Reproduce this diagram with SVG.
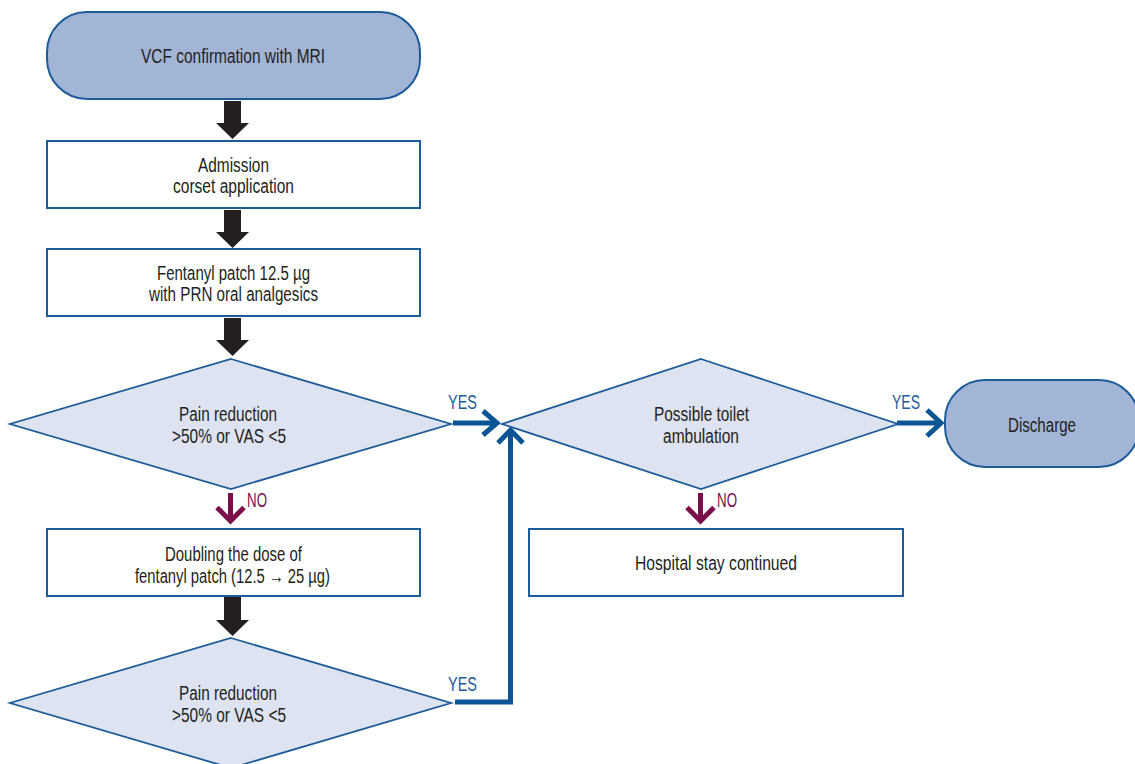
<svg xmlns="http://www.w3.org/2000/svg" width="1135" height="764" viewBox="0 0 1135 764">
<style>
text{font-family:"Liberation Sans Narrow","Liberation Sans",Arial,sans-serif;font-size:20px;fill:#231f20;text-anchor:middle}
.term{fill:#a3b5d7;stroke:#1d5c99;stroke-width:2}
.box{fill:#ffffff;stroke:#1d5c99;stroke-width:2}
.dia{fill:#dde3f1;stroke:#1d5c99;stroke-width:1.8}
.blk{fill:#231f20}
.pur{fill:none;stroke:#7b0f4b;stroke-width:5}
.blu{fill:none;stroke:#0c5595;stroke-width:5}
.lblb{fill:#1d5c99;text-anchor:start}
.lblp{fill:#7b0f4b;text-anchor:start}
</style>
<rect width="1135" height="764" fill="#ffffff"/>
<g id="connectors">
<path class="blk" d="M224,101H241V123H249L232.5,139L216,123H224Z"/>
<path class="blk" d="M224,210H241V232H249L232.5,248L216,232H224Z"/>
<path class="blk" d="M224,318H241V340H249L232.5,356L216,340H224Z"/>
<path class="blk" d="M224,597H241V620H249L232.5,636L216,620H224Z"/>
<path class="pur" d="M230.5,493V520M217,507.5L230.5,521L244,507.5"/>
<path class="pur" d="M700.5,493V520M687,507.5L700.5,521L714,507.5"/>
<path class="blu" d="M453,423H496M483,411L497,423L483,435"/>
<path class="blu" d="M455,702H510.5V431M498,443L510.5,430L523,443"/>
<path class="blu" d="M897,423H940M927,410L941,423L927,436"/>
<text class="lblb" x="448" y="409" textLength="29" lengthAdjust="spacingAndGlyphs">YES</text>
<text class="lblb" x="448" y="691" textLength="29" lengthAdjust="spacingAndGlyphs">YES</text>
<text class="lblb" x="892" y="409" textLength="28" lengthAdjust="spacingAndGlyphs">YES</text>
<text class="lblp" x="247" y="507" textLength="20" lengthAdjust="spacingAndGlyphs">NO</text>
<text class="lblp" x="717" y="507" textLength="20" lengthAdjust="spacingAndGlyphs">NO</text>
</g>
<g id="n1">
<rect class="term" x="47" y="12" width="373" height="87" rx="40"/>
<text x="233" y="63" textLength="184" lengthAdjust="spacingAndGlyphs">VCF confirmation with MRI</text>
</g>
<g id="n2">
<rect class="box" x="47" y="141" width="373" height="67"/>
<text x="233.5" y="172" textLength="71" lengthAdjust="spacingAndGlyphs">Admission</text>
<text x="233.5" y="193" textLength="121" lengthAdjust="spacingAndGlyphs">corset application</text>
</g>
<g id="n3">
<rect class="box" x="47" y="249" width="373" height="67"/>
<text x="233.5" y="280" textLength="153" lengthAdjust="spacingAndGlyphs">Fentanyl patch 12.5 µg</text>
<text x="233.5" y="301" textLength="169" lengthAdjust="spacingAndGlyphs">with PRN oral analgesics</text>
</g>
<g id="n4">
<polygon class="dia" points="231,359 451,424 231,489 10,424"/>
<text x="228" y="421" textLength="98" lengthAdjust="spacingAndGlyphs">Pain reduction</text>
<text x="229" y="443" textLength="114" lengthAdjust="spacingAndGlyphs">&gt;50% or VAS &lt;5</text>
</g>
<g id="n5">
<rect class="box" x="47" y="529" width="373" height="67"/>
<text x="233.5" y="561" textLength="137" lengthAdjust="spacingAndGlyphs">Doubling the dose of</text>
<text x="232.5" y="583" textLength="195" lengthAdjust="spacingAndGlyphs">fentanyl patch (12.5 → 25 µg)</text>
</g>
<g id="n6">
<polygon class="dia" points="231,638 451,703 231,768 10,703"/>
<text x="228" y="700" textLength="98" lengthAdjust="spacingAndGlyphs">Pain reduction</text>
<text x="229" y="722" textLength="114" lengthAdjust="spacingAndGlyphs">&gt;50% or VAS &lt;5</text>
</g>
<g id="n7">
<polygon class="dia" points="701,359 898,424 701,489 502,424"/>
<text x="701.5" y="421" textLength="95" lengthAdjust="spacingAndGlyphs">Possible toilet</text>
<text x="701" y="443" textLength="76" lengthAdjust="spacingAndGlyphs">ambulation</text>
</g>
<g id="n8">
<rect class="term" x="945" y="380" width="194" height="87" rx="40"/>
<text x="1042" y="432" textLength="68" lengthAdjust="spacingAndGlyphs">Discharge</text>
</g>
<g id="n9">
<rect class="box" x="529" y="529" width="374" height="67"/>
<text x="716" y="570" textLength="162" lengthAdjust="spacingAndGlyphs">Hospital stay continued</text>
</g>
</svg>
